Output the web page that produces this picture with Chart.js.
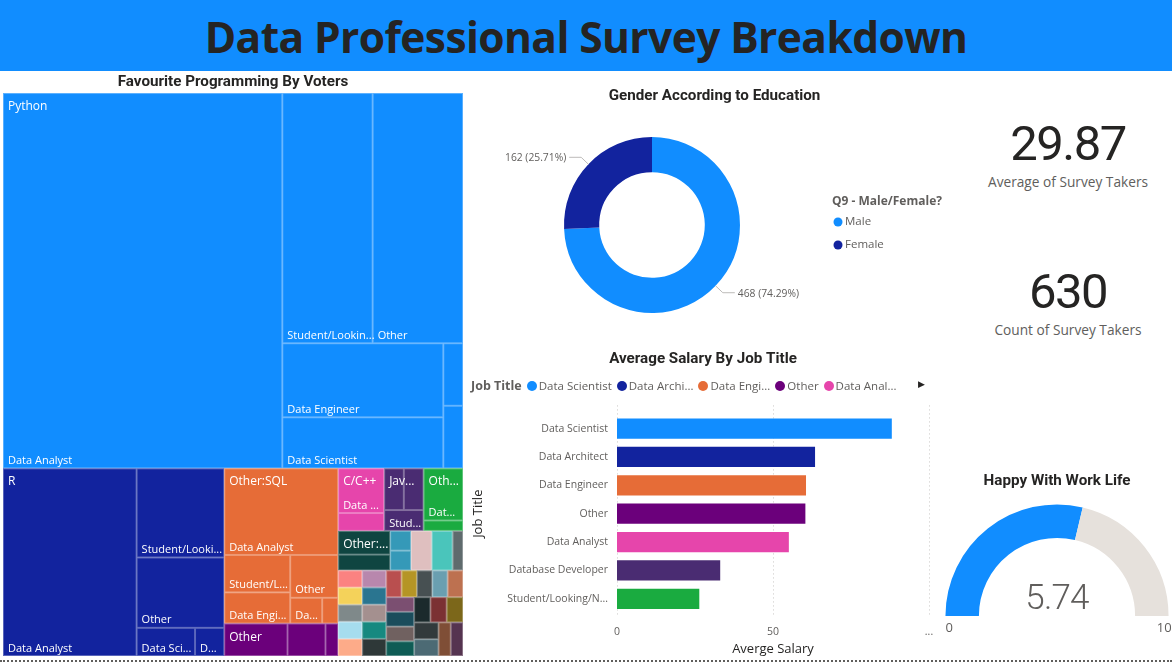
<!DOCTYPE html>
<html>
<head>
<meta charset="utf-8">
<title>Data Professional Survey Breakdown</title>
<script src="https://cdn.jsdelivr.net/npm/chart.js@4"></script>
<style>
  html, body { margin: 0; padding: 0; background: #fff; overflow: hidden; }
  body { width: 1172px; height: 662px; position: relative; font-family: "Open Sans", sans-serif; }
  canvas { position: absolute; }
  #header { position: absolute; left: 0; top: 0; width: 1172px; height: 71px; background: #118DFF; }
  #header h1 { margin: 0; text-align: center; font: 700 42.5px/73px "Open Sans", sans-serif; letter-spacing: -0.6px; color: #252423; }
  .card { position: absolute; left: 968px; width: 200px; text-align: center; }
  .card b { display: block; font: 400 49px/56px Roboto, sans-serif; letter-spacing: -1.5px; color: #252423; }
  .card span { display: block; font-size: 13.7px; line-height: 20px; color: #605E5C; }
  #jobLegend { position: absolute; left: 471px; top: 376px; height: 18px; display: flex; align-items: center; gap: 5px; font-size: 11.5px; color: #605E5C; white-space: nowrap; }
  #jobLegend b { font-size: 12.5px; }
  #jobLegend i { display: inline-block; width: 10px; height: 10px; border-radius: 50%; margin-right: 2px; vertical-align: -1px; }
  #legendArrow { position: absolute; left: 918px; top: 377px; font-size: 9px; color: #252423; }
  #footer { position: absolute; left: 0; top: 660px; width: 1172px; border-top: 2px dotted #605E5C; }
</style>
</head>
<body>
<div id="header"><h1>Data Professional Survey Breakdown</h1></div>
<canvas id="treeChart" width="466" height="586" style="left:0;top:71px"></canvas>
<canvas id="genderChart" width="471" height="245" style="left:479px;top:80px"></canvas>
<canvas id="salaryChart" width="466" height="312" style="left:470px;top:345px"></canvas>
<canvas id="happyChart" width="230" height="195" style="left:942px;top:465px"></canvas>
<div class="card" style="top:116px"><b id="avgValue"></b><span id="avgLabel"></span></div>
<div class="card" style="top:264px"><b id="countValue"></b><span id="countLabel"></span></div>
<div id="jobLegend"></div>
<div id="legendArrow">&#9654;</div>
<div id="footer"></div>

<script>
// Colours / text
const blue = "#118DFF", navy = "#12239E", orange = "#E66C37", purple = "#6B007B";
const darkText = "#252423", greyText = "#605E5C";
const titleFont = { family: "Roboto", size: 15.2, weight: "700" };

// TREEMAP: votes for each job inside each language
const pythonRoles = ["Data Analyst", "Student/Lookin...", "Other", "Data Engineer", "Data Scientist", "", ""];
const pythonVotes = [255, 55, 55, 29, 20, 3, 3];
const rRoles = ["Data Analyst", "Student/Looki...", "Other", "Data Sci...", "D..."];
const rVotes = [61, 19, 15, 4, 2];
const sqlRoles = ["Data Analyst", "Student/L...", "Data Engi...", "Other", "Da...", ""];
const sqlVotes = [24, 6, 5, 5, 2, 1];
const otherRoles = ["", "", ""];
const otherVotes = [5, 3, 1];
const cRoles = ["Data ...", ""];
const cVotes = [5, 2];
const javaRoles = ["", "", "Stud..."];
const javaVotes = [2, 2, 2];
const greenRoles = ["Dat...", ""];
const greenVotes = [5, 1];
const tealRoles = ["", ""];
const tealVotes = [3, 2];

const groupNames = ["Python", "R", "Other:SQL", "Other", "C/C++", "Jav...", "Oth...", "Other:..."];
const groupRoles = [pythonRoles, rRoles, sqlRoles, otherRoles, cRoles, javaRoles, greenRoles, tealRoles];
const groupVotes = [pythonVotes, rVotes, sqlVotes, otherVotes, cVotes, javaVotes, greenVotes, tealVotes,
  [1, 1], [2], [2], [1],
  [1], [1], [1], [1], [1], [1], [1], [1], [1], [1],
  [1], [1], [1], [1], [1],
  [1], [1], [1], [1],
  [1], [1], [1],
  [1], [1], [1], [1]];
const groupColors = [blue, navy, orange, purple, "#E645AB", "#4A2C72", "#1AAB40", "#0F4541",
  "#3599B8", "#DFBFBF", "#4AC5BB", "#5F6B6D",
  "#FB8281", "#B887AD", "#F4D25A", "#2A7590", "#7F898A", "#A4908F", "#A6DDEE", "#168980", "#FDAB89", "#2E3838",
  "#B94F4F", "#B59525", "#475052", "#6A9FB0", "#BD7150",
  "#7B4F71", "#1B4D5C", "#706160", "#0F5C55",
  "#1B2A2C", "#7B3133", "#7C671A",
  "#323A3C", "#4C6A74", "#7F4E36", "#553450"];

// how each block is cut: h = side by side, v = stacked, numbers index the values
const groupSplit = ["v", 0, ["h", 1, ["v", 2, 3], ["v",
  ["h", 4, 5, 6],
  ["h", 7, 8, 9, 10, 11],
  ["h",
    ["v", ["h", 12, 13], ["h", 14, 15], ["h", 16, 17], ["h", 18, 19], ["h", 20, 21]],
    ["v", ["h", 22, 23, 24, 25, 26],
      ["h", ["v", 27, 28, 29, 30],
        ["v", ["h", 31, 32, 33], ["h", ["v", 34, 35], 36, 37]]]]]]]];
const cellSplits = [
  ["h", 0, ["v", ["h", 1, 2], ["h", ["v", 3, 4], ["v", 5, 6]]]],
  ["h", 0, ["v", 1, 2, ["h", 3, 4]]],
  ["v", 0, ["h", ["v", 1, 2], ["v", 3, ["h", 4, 5]]]],
  ["h", 0, 1, 2],
  ["v", 0, 1],
  ["v", ["h", 0, 1], 2],
  ["v", 0, 1],
  ["v", 0, 1],
  ["v", 0, 1]
];

// DOUGHNUT
const genders = ["Male", "Female"];
const genderCounts = [468, 162];
const genderShares = ["74.29%", "25.71%"];
const genderLegendTitle = "Q9 - Male/Female?";

// BARS
const jobTitles = ["Data Scientist", "Data Architect", "Data Engineer", "Other", "Data Analyst", "Database Developer", "Student/Looking/N..."];
const avgSalary = [88.4, 63.8, 60.9, 60.7, 55.4, 33.4, 26.7];
const jobColors = [blue, navy, orange, purple, "#E645AB", "#4A2C72", "#1AAB40"];
const legendNames = ["Data Scientist", "Data Archi...", "Data Engi...", "Other", "Data Anal..."];
const salaryTicks = [0, 50, 100];

// GAUGE
const happyValue = 5.74;
const happyMax = 10;

// CARDS
document.getElementById("avgValue").textContent = "29.87";
document.getElementById("avgLabel").textContent = "Average of Survey Takers";
document.getElementById("countValue").textContent = "630";
document.getElementById("countLabel").textContent = "Count of Survey Takers";

document.getElementById("jobLegend").innerHTML = "<b>Job Title</b>" + legendNames.map(function (n, i) {
  return "<span><i style='background:" + jobColors[i] + "'></i>" + n + "</span>";
}).join("");

// treemap layout in 0..1 space
function total(node, values) {
  if (typeof node === "number") return values(node);
  return node.slice(1).reduce(function (s, c) { return s + total(c, values); }, 0);
}
function place(node, values, box, out) {
  if (typeof node === "number") { out[node] = box; return; }
  let horizontal = node[0] === "h", all = total(node, values), pos = 0;
  node.slice(1).forEach(function (child) {
    let part = total(child, values) / all;
    let b = horizontal
      ? { x: box.x + pos * box.w, y: box.y, w: part * box.w, h: box.h }
      : { x: box.x, y: box.y + pos * box.h, w: box.w, h: part * box.h };
    place(child, values, b, out);
    pos += part;
  });
}
function sum(a) { return a.reduce(function (s, v) { return s + v; }, 0); }

let groupBoxes = [];
place(groupSplit, function (i) { return sum(groupVotes[i]); }, { x: 0, y: 0, w: 1, h: 1 }, groupBoxes);

let treeCells = [];
groupVotes.forEach(function (votes, g) {
  let boxes = [];
  let split = cellSplits[g] || (votes.length > 1 ? cellSplits[8] : ["h", 0]);
  place(split, function (i) { return votes[i]; }, groupBoxes[g], boxes);
  boxes.forEach(function (b, i) {
    treeCells.push({
      x: b.x + b.w / 2, y: b.y + b.h / 2, w: b.w, h: b.h,
      color: groupColors[g],
      role: groupRoles[g] ? groupRoles[g][i] : "",
      group: i === 0 && groupNames[g] ? groupNames[g] : ""
    });
  });
});

const treeCellsPlugin = {
  id: "treeCells",
  afterDatasetsDraw(chart) {
    let c = chart.ctx, sx = chart.scales.x, sy = chart.scales.y;
    let cells = chart.data.datasets[0].data;
    function edges(d) {
      return {
        x0: sx.getPixelForValue(d.x - d.w / 2), x1: sx.getPixelForValue(d.x + d.w / 2),
        y0: sy.getPixelForValue(d.y - d.h / 2), y1: sy.getPixelForValue(d.y + d.h / 2)
      };
    }
    c.save();
    cells.forEach(function (d) {
      let e = edges(d);
      c.fillStyle = d.color;
      c.fillRect(e.x0, e.y0, e.x1 - e.x0, e.y1 - e.y0);
      c.strokeStyle = "rgba(255,255,255,0.3)";
      c.lineWidth = 1;
      c.strokeRect(e.x0 + 0.5, e.y0 + 0.5, e.x1 - e.x0 - 1, e.y1 - e.y0 - 1);
    });
    // labels after all fills, they may run over the next cell
    c.fillStyle = "#fff";
    c.textBaseline = "middle";
    cells.forEach(function (d) {
      let e = edges(d);
      if (d.group) {
        c.font = "12px 'Open Sans'";
        c.fillText(d.group, e.x0 + 5, e.y0 + 13.7);
      }
      if (d.role) {
        c.font = "11px 'Open Sans'";
        c.fillText(d.role, e.x0 + 5, e.y1 - 7.5);
      }
    });
    c.restore();
  }
};

new Chart(document.getElementById("treeChart"), {
  type: "scatter",
  data: { datasets: [{ data: treeCells, pointRadius: 0 }] },
  options: {
    responsive: false, animation: false,
    layout: { padding: { left: 3, right: 3, bottom: 1 } },
    plugins: {
      legend: { display: false }, tooltip: { enabled: false },
      title: { display: true, text: "Favourite Programming By Voters", color: darkText, font: titleFont, padding: { top: 2, bottom: 1.8 } }
    },
    scales: {
      x: { display: false, min: 0, max: 1 },
      y: { display: false, min: 0, max: 1, reverse: true }
    }
  },
  plugins: [treeCellsPlugin]
});

// leader lines and labels round the doughnut, plus its legend
const sliceLabelsPlugin = {
  id: "sliceLabels",
  afterInit(chart) {
    let legend = chart.legend, fit = legend.fit;
    // legend box wider than its items, the title needs the room
    legend.fit = function () { fit.call(this); this.width = 125; };
    legend.draw = function () {
      let c = chart.ctx, mid = (chart.chartArea.top + chart.chartArea.bottom) / 2, left = this.left;
      c.save();
      c.textBaseline = "middle";
      c.textAlign = "left";
      c.fillStyle = greyText;
      c.font = "700 12px 'Open Sans'";
      c.fillText(genderLegendTitle, left + 7, mid - 23);
      c.font = "11.5px 'Open Sans'";
      this.legendItems.forEach(function (item, i) {
        let y = mid - 3 + i * 23;
        c.fillStyle = item.fillStyle;
        c.beginPath();
        c.arc(left + 13, y, 4.5, 0, Math.PI * 2);
        c.fill();
        c.fillStyle = greyText;
        c.fillText(item.text, left + 20, y);
      });
      c.restore();
    };
  },
  afterDatasetsDraw(chart) {
    let c = chart.ctx;
    c.save();
    c.font = "10.3px 'Open Sans'";
    c.textBaseline = "middle";
    chart.getDatasetMeta(0).data.forEach(function (arc, i) {
      let mid = (arc.startAngle + arc.endAngle) / 2;
      let x = arc.x + Math.cos(mid) * arc.outerRadius, y = arc.y + Math.sin(mid) * arc.outerRadius;
      let ex = arc.x + Math.cos(mid) * (arc.outerRadius + 10), ey = arc.y + Math.sin(mid) * (arc.outerRadius + 10);
      let dir = Math.cos(mid) >= 0 ? 1 : -1;
      c.strokeStyle = "#bdbbb9";
      c.lineWidth = 1;
      c.beginPath();
      c.moveTo(x, y);
      c.lineTo(ex, ey);
      c.lineTo(ex + dir * 12, ey);
      c.stroke();
      c.fillStyle = greyText;
      c.textAlign = dir > 0 ? "left" : "right";
      c.fillText(genderCounts[i] + " (" + genderShares[i] + ")", ex + dir * 15, ey + 1);
    });
    c.restore();
  }
};

new Chart(document.getElementById("genderChart"), {
  type: "doughnut",
  data: { labels: genders, datasets: [{ data: genderCounts, backgroundColor: [blue, navy], borderWidth: 0 }] },
  options: {
    responsive: false, animation: false, cutout: "60%",
    layout: { padding: { bottom: 12 } },
    plugins: {
      tooltip: { enabled: false },
      title: { display: true, text: "Gender According to Education", color: darkText, font: titleFont, padding: { top: 7, bottom: 31.8 } },
      legend: { position: "right", fullSize: false }
    }
  },
  plugins: [sliceLabelsPlugin]
});

// dotted value gridlines, they run past the bars at both ends
const salaryGridPlugin = {
  id: "salaryGrid",
  beforeDatasetsDraw(chart) {
    let c = chart.ctx, a = chart.chartArea, sx = chart.scales.x;
    c.save();
    c.strokeStyle = "#c8c6c4";
    c.lineWidth = 1;
    c.setLineDash([1, 3]);
    salaryTicks.forEach(function (v) {
      let x = Math.round(sx.getPixelForValue(v)) + 0.5;
      c.beginPath();
      c.moveTo(x, a.top - 9);
      c.lineTo(x, a.bottom + 4);
      c.stroke();
    });
    c.restore();
  }
};

new Chart(document.getElementById("salaryChart"), {
  type: "bar",
  data: {
    labels: jobTitles,
    datasets: [{
      data: avgSalary, backgroundColor: jobColors,
      borderColor: "rgba(255,255,255,0.3)", borderWidth: 1,
      categoryPercentage: 1, barPercentage: 0.785
    }]
  },
  options: {
    indexAxis: "y", responsive: false, animation: false,
    plugins: {
      legend: { display: false }, tooltip: { enabled: false },
      title: { display: true, text: "Average Salary By Job Title", color: darkText, font: titleFont, padding: { top: 5, bottom: 46.2 } }
    },
    scales: {
      x: {
        min: 0, max: 100,
        // paddingRight narrows the plot without moving the chart title
        afterFit(s) { s.height = 44; s.paddingRight = 7; },
        afterBuildTicks(s) { s.ticks = salaryTicks.map(function (v) { return { value: v }; }); },
        ticks: { color: greyText, font: { family: "Open Sans", size: 10.5 }, maxRotation: 0, padding: 5,
          callback: function (v) { return v === 100 ? "..." : v; } },
        grid: { display: false },
        border: { display: false },
        title: { display: true, text: "Averge Salary", color: darkText, font: { family: "Open Sans", size: 13 }, padding: { top: 0, bottom: 0 } }
      },
      y: {
        afterFit(s) { s.width = 147; },
        ticks: { color: greyText, font: { family: "Open Sans", size: 10.5 }, padding: 1 },
        grid: { display: false },
        border: { display: false },
        title: { display: true, text: "Job Title", color: darkText, font: { family: "Open Sans", size: 13 }, padding: { top: 0, bottom: 0 } }
      }
    }
  },
  plugins: [salaryGridPlugin]
});

const gaugeTextPlugin = {
  id: "gaugeText",
  afterDatasetsDraw(chart) {
    let c = chart.ctx, arc = chart.getDatasetMeta(0).data[0];
    c.save();
    c.fillStyle = greyText;
    c.font = "300 35px Roboto";
    c.letterSpacing = "-0.8px";
    c.textAlign = "center";
    c.textBaseline = "alphabetic";
    c.fillText(String(happyValue), arc.x, arc.y - 7);
    c.letterSpacing = "0px";
    c.font = "13px 'Open Sans'";
    c.textBaseline = "top";
    c.textAlign = "left";
    c.fillText("0", arc.x - arc.outerRadius, arc.y + 6);
    c.textAlign = "right";
    c.fillText(String(happyMax), arc.x + arc.outerRadius + 3, arc.y + 6);
    c.restore();
  }
};

new Chart(document.getElementById("happyChart"), {
  type: "doughnut",
  data: { labels: ["Happy", "Remaining"], datasets: [{ data: [happyValue, happyMax - happyValue], backgroundColor: [blue, "#E6E1DC"], borderWidth: 0 }] },
  options: {
    responsive: false, animation: false, cutout: "70%", rotation: -90, circumference: 180,
    layout: { padding: { left: 3, right: 3, bottom: 44 } },
    plugins: {
      legend: { display: false }, tooltip: { enabled: false },
      title: { display: true, text: "Happy With Work Life", color: darkText, font: titleFont, padding: { top: 7, bottom: 14.2 } }
    }
  },
  plugins: [gaugeTextPlugin]
});
</script>
</body>
</html>
